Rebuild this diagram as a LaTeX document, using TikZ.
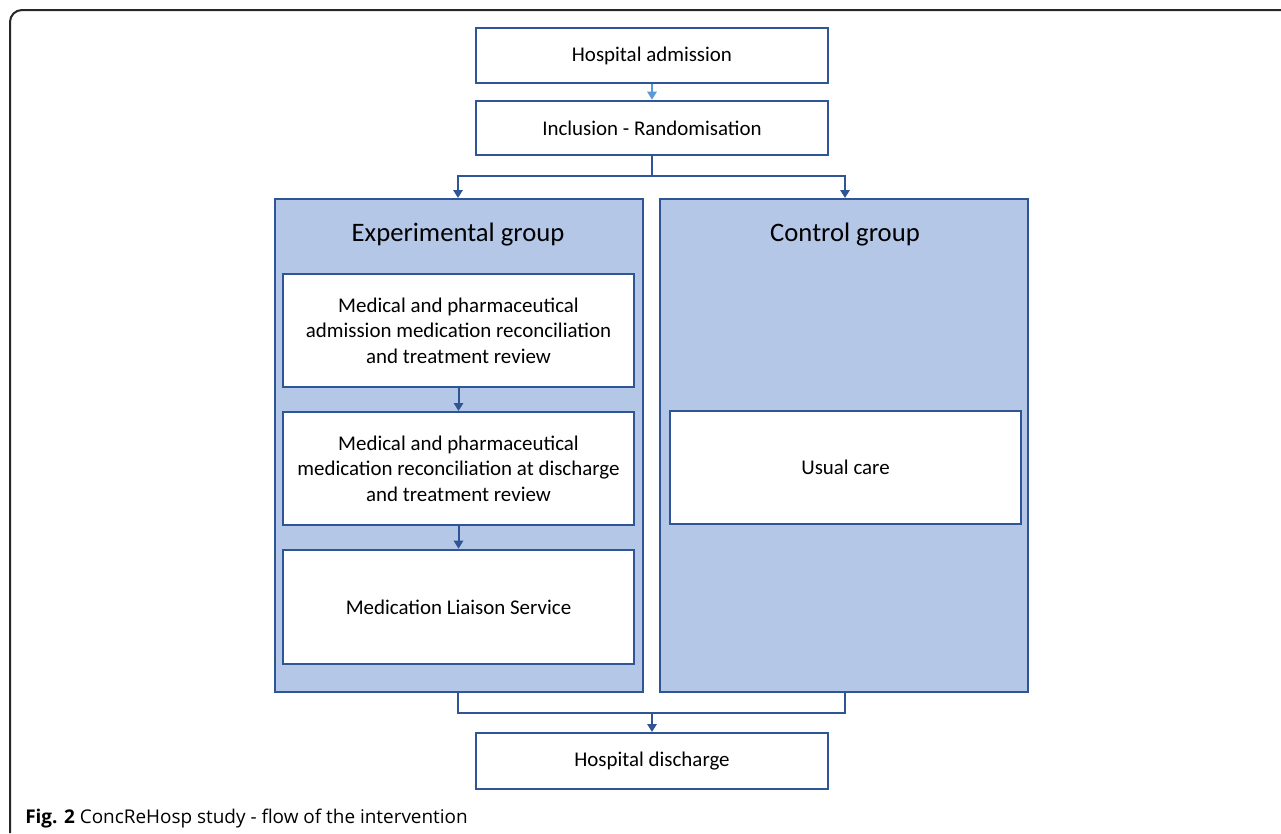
\documentclass[tikz,border=0pt]{standalone}
\usepackage{fontspec}
\setmainfont{Carlito}
\newfontfamily\captionfont{Open Sans}
\usetikzlibrary{arrows.meta,positioning}

\definecolor{boxblue}{HTML}{2F5597}
\definecolor{groupfill}{HTML}{B4C7E7}
\definecolor{lightarrow}{HTML}{5B9BD5}

\begin{document}
\begin{tikzpicture}[x=0.75pt,y=-0.75pt,
    stepbox/.style={draw=boxblue,line width=1.5pt,fill=white,align=center,
      font=\fontsize{15.7}{19}\selectfont},
    groupbox/.style={draw=boxblue,line width=1.5pt,fill=groupfill,
      minimum width=276pt,minimum height=369.75pt},
    grouptitle/.style={font=\fontsize{20}{24}\selectfont},
    flow/.style={draw=boxblue,line width=1.5pt,
      -{Triangle[length=6pt,width=7pt]}},
    link/.style={draw=boxblue,line width=1.5pt}]
  \useasboundingbox (0,0) rectangle (1281,833);
  % outer frame
  \draw[line width=1.5pt,black!85,rounded corners=9pt] (10,833) -- (10,10) -- (1281,10);

  % top boxes
  \node[stepbox,minimum width=264pt,minimum height=41pt] (admission) at (652,55.5) {Hospital admission};
  \node[stepbox,minimum width=264pt,minimum height=41pt] (inclusion) at (652,128) {Inclusion - Randomisation};

  % groups
  \node[groupbox] (expgroup) at (459,445.5) {};
  \node[groupbox] (ctrlgroup) at (844,445.5) {};
  \node[grouptitle] (exptitle) at (458,235) {Experimental group};
  \node[grouptitle] (ctrltitle) at (845,235) {Control group};

  % experimental steps
  \node[stepbox,minimum width=263pt,minimum height=84.75pt] (reconadm) at (458.5,330.5)
    {Medical and pharmaceutical\\admission medication reconciliation\\and treatment review};
  \node[stepbox,minimum width=263pt,minimum height=84.75pt] (recondis) at (458.5,468.5)
    {Medical and pharmaceutical\\medication reconciliation at discharge\\and treatment review};
  \node[stepbox,minimum width=263pt,minimum height=86pt] (liaison) at (458.5,607)
    {Medication Liaison Service};

  % control step
  \node[stepbox,minimum width=263pt,minimum height=85pt] (usualcare) at (845.5,467.5) {Usual care};

  \node[stepbox,minimum width=264pt,minimum height=42pt] (discharge) at (652,761) {Hospital discharge};

  % connectors
  \coordinate (split) at (652,176);
  \coordinate (merge) at (652,713);
  \draw[flow,draw=lightarrow] (admission) -- (inclusion);
  \draw[link] (inclusion) -- (split);
  \draw[flow] (split) -| (exptitle.north |- expgroup.north);
  \draw[flow] (split) -| (ctrltitle.north |- ctrlgroup.north);
  \draw[flow] (reconadm) -- (recondis);
  \draw[flow] (recondis) -- (liaison);
  \draw[link] (exptitle.south |- expgroup.south) |- (merge) -| (ctrltitle.south |- ctrlgroup.south);
  \draw[flow] (merge) -- (discharge);

  % caption
  \node[anchor=base west,inner sep=0pt,font=\captionfont\fontsize{14.2}{17}\selectfont] (caption) at (25,823)
    {\textbf{Fig. 2} ConcReHosp study - flow of the intervention};
\end{tikzpicture}
\end{document}
